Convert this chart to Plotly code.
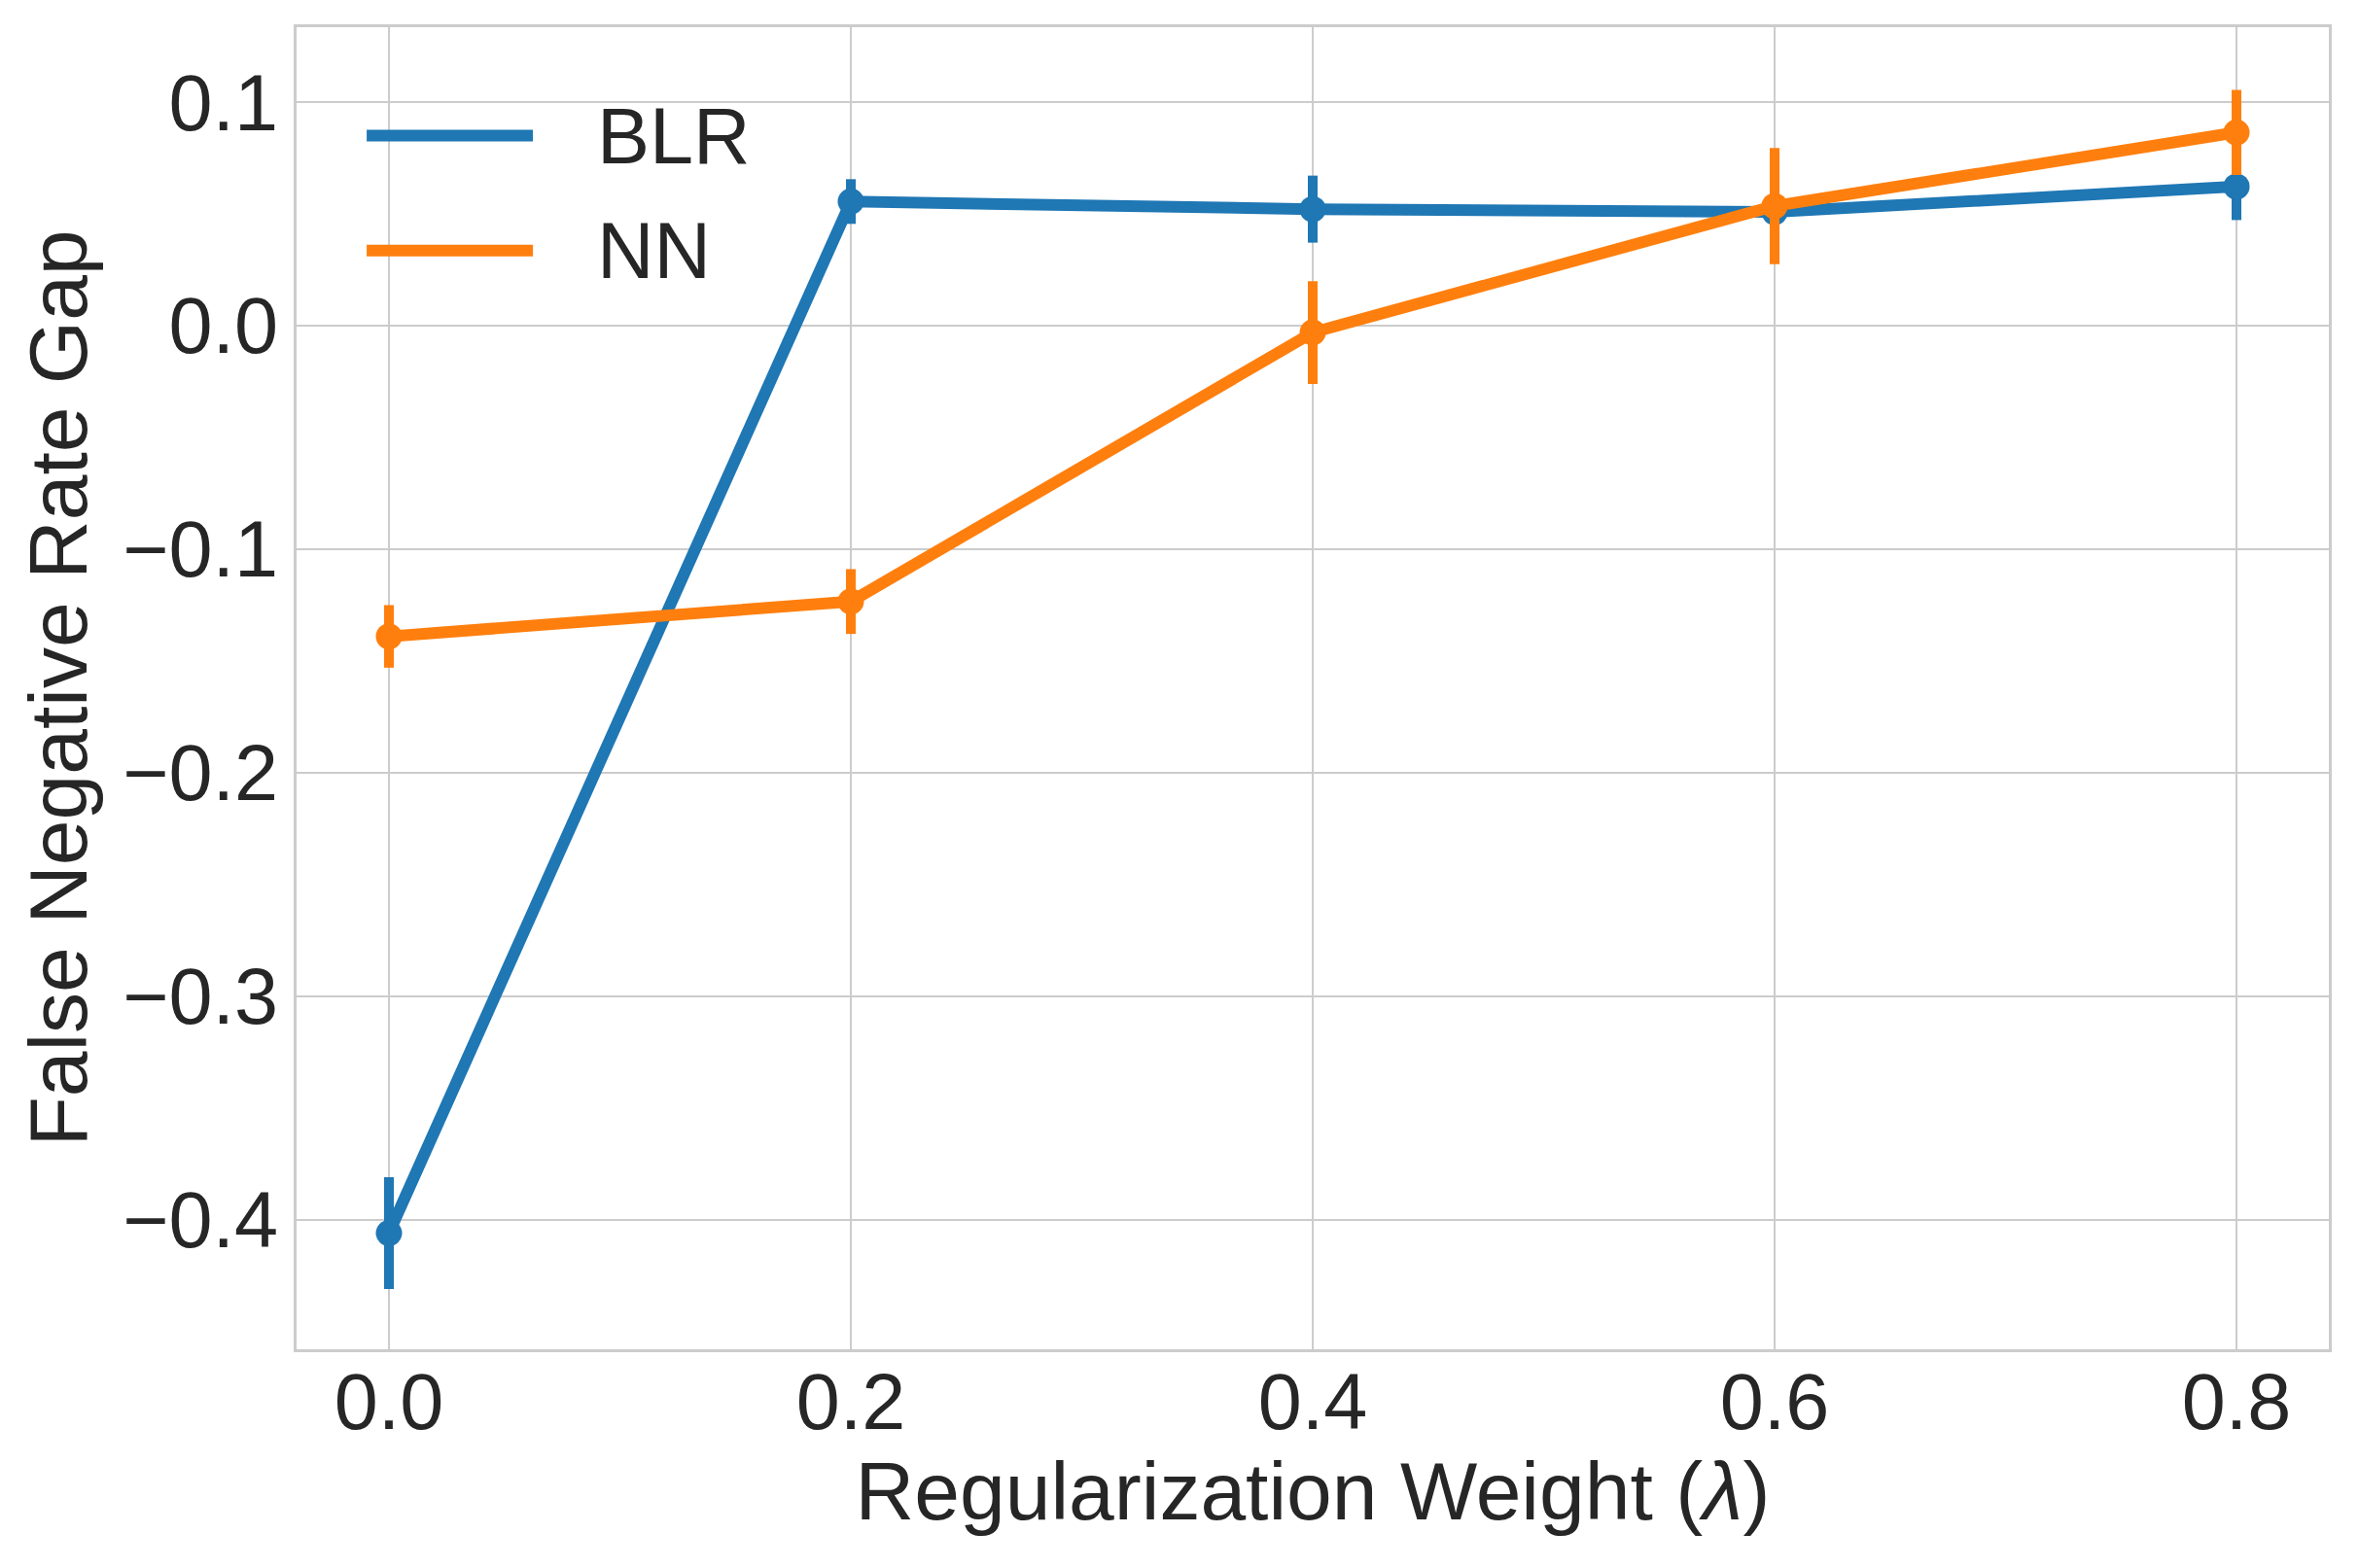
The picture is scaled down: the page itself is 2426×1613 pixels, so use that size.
import plotly.graph_objects as go

# ---- data ----
lambdas = [0.0, 0.2, 0.4, 0.6, 0.8]
blr_gap = [-0.406, 0.0556, 0.0522, 0.0509, 0.0623]
blr_err = [0.025, 0.010, 0.015, 0.010, 0.015]
nn_gap = [-0.139, -0.1234, -0.003, 0.0536, 0.0865]
nn_err = [0.014, 0.0145, 0.023, 0.026, 0.019]
series_names = ["BLR", "NN"]
colors = ["#1f77b4", "#ff7f0e"]
x_ticks = [0.0, 0.2, 0.4, 0.6, 0.8]
y_ticks = [-0.4, -0.3, -0.2, -0.1, 0.0, 0.1]

FONT = "Liberation Sans, Arial, sans-serif"
TXT = "#262626"
GRID = "#cccccc"

fig = go.Figure()
for name, ys, errs, col in [(series_names[0], blr_gap, blr_err, colors[0]),
                            (series_names[1], nn_gap, nn_err, colors[1])]:
    fig.add_trace(go.Scatter(
        x=lambdas, y=ys, name=name, mode="lines+markers",
        line=dict(color=col, width=12),
        marker=dict(color=col, size=27, symbol="circle"),
        error_y=dict(type="data", array=errs, visible=True, color=col,
                     thickness=10, width=0),
        showlegend=False,
    ))

# manual legend (long line samples like matplotlib)
legend_rows = [(0.918, series_names[0], colors[0]), (0.831, series_names[1], colors[1])]
for yp, name, col in legend_rows:
    fig.add_shape(type="line", xref="paper", yref="paper",
                  x0=0.0345, x1=0.1163, y0=yp, y1=yp,
                  line=dict(color=col, width=12))
    fig.add_annotation(xref="paper", yref="paper", x=0.147, y=yp,
                       text=name, showarrow=False, xanchor="left", yanchor="middle",
                       font=dict(family=FONT, size=81, color=TXT))

fig.update_layout(
    width=2410, height=1597,
    margin=dict(l=297, r=23, t=20, b=217),
    paper_bgcolor="white", plot_bgcolor="white",
    font=dict(family=FONT, color=TXT, size=80),
)
fig.update_xaxes(
    range=[-0.04, 0.84], tickvals=x_ticks, tickformat=".1f",
    showgrid=True, gridcolor=GRID, gridwidth=2,
    showline=True, linecolor=GRID, linewidth=2.5, mirror=True,
    zeroline=False, ticks="", tickfont=dict(size=81, color=TXT),
    ticklabelstandoff=-18,
    title=dict(text="Regularization Weight (<i>λ</i>)", font=dict(size=84, color=TXT), standoff=8),
)
fig.update_yaxes(
    range=[-0.458, 0.1336], tickvals=y_ticks, tickformat=".1f",
    showgrid=True, gridcolor=GRID, gridwidth=2,
    showline=True, linecolor=GRID, linewidth=2.5, mirror=True,
    zeroline=False, ticks="", tickfont=dict(size=81, color=TXT),
    title=dict(text="False Negative Rate Gap", font=dict(size=84, color=TXT), standoff=9),
)

fig.write_html("out.html")
